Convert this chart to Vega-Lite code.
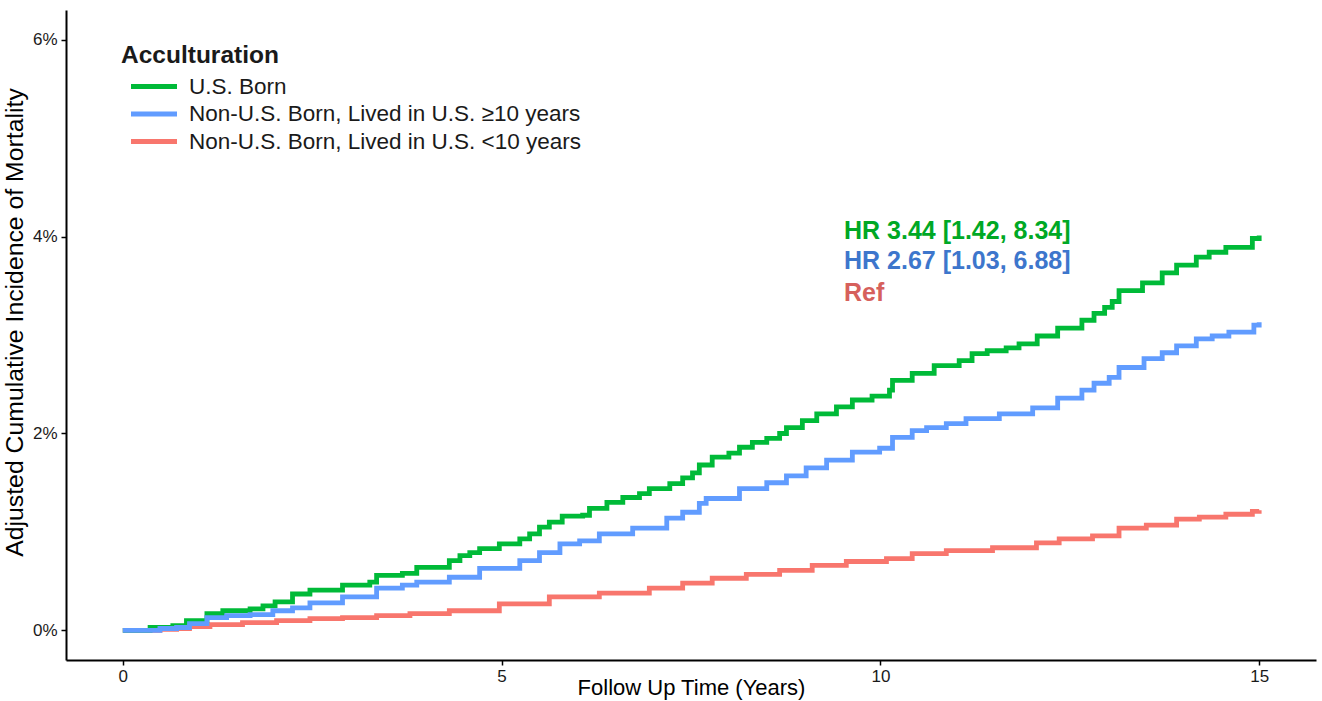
{
  "$schema": "https://vega.github.io/schema/vega-lite/v6.json",
  "width": 1250,
  "height": 650,
  "autosize": {"type": "none"},
  "padding": {"left": 66, "top": 10, "right": 6, "bottom": 41},
  "background": "white",
  "config": {
    "view": {"stroke": null},
    "font": "Liberation Sans",
    "axis": {
      "domainColor": "#000000",
      "domainWidth": 2,
      "tickColor": "#000000",
      "tickWidth": 1.5,
      "tickSize": 5,
      "grid": false
    },
    "legend": {
      "orient": "none",
      "legendX": 55,
      "legendY": 34,
      "titleFont": "Liberation Sans",
      "titleFontSize": 24.5,
      "titleFontWeight": "bold",
      "titleColor": "#1a1a1a",
      "titlePadding": 4,
      "labelFont": "Liberation Sans",
      "labelFontSize": 22.5,
      "labelColor": "#1a1a1a",
      "labelLimit": 0,
      "symbolType": "M-2,0H2",
      "symbolStrokeWidth": 5,
      "symbolSize": 529,
      "symbolOffset": 19,
      "labelOffset": 21,
      "rowPadding": 1.5
    }
  },
  "datasets": {
    "curves": [
      {"series": "Non-U.S. Born, Lived in U.S. <10 years", "t": 0, "cum": 0},
      {"series": "Non-U.S. Born, Lived in U.S. <10 years", "t": 0.49, "cum": 0.01},
      {"series": "Non-U.S. Born, Lived in U.S. <10 years", "t": 0.71, "cum": 0.02},
      {"series": "Non-U.S. Born, Lived in U.S. <10 years", "t": 0.88, "cum": 0.04},
      {"series": "Non-U.S. Born, Lived in U.S. <10 years", "t": 1.15, "cum": 0.06},
      {"series": "Non-U.S. Born, Lived in U.S. <10 years", "t": 1.58, "cum": 0.08},
      {"series": "Non-U.S. Born, Lived in U.S. <10 years", "t": 2.03, "cum": 0.10},
      {"series": "Non-U.S. Born, Lived in U.S. <10 years", "t": 2.47, "cum": 0.12},
      {"series": "Non-U.S. Born, Lived in U.S. <10 years", "t": 2.90, "cum": 0.13},
      {"series": "Non-U.S. Born, Lived in U.S. <10 years", "t": 3.35, "cum": 0.15},
      {"series": "Non-U.S. Born, Lived in U.S. <10 years", "t": 3.79, "cum": 0.17},
      {"series": "Non-U.S. Born, Lived in U.S. <10 years", "t": 4.31, "cum": 0.20},
      {"series": "Non-U.S. Born, Lived in U.S. <10 years", "t": 4.97, "cum": 0.27},
      {"series": "Non-U.S. Born, Lived in U.S. <10 years", "t": 5.63, "cum": 0.34},
      {"series": "Non-U.S. Born, Lived in U.S. <10 years", "t": 6.29, "cum": 0.38},
      {"series": "Non-U.S. Born, Lived in U.S. <10 years", "t": 6.95, "cum": 0.43},
      {"series": "Non-U.S. Born, Lived in U.S. <10 years", "t": 7.39, "cum": 0.48},
      {"series": "Non-U.S. Born, Lived in U.S. <10 years", "t": 7.78, "cum": 0.53},
      {"series": "Non-U.S. Born, Lived in U.S. <10 years", "t": 8.23, "cum": 0.57},
      {"series": "Non-U.S. Born, Lived in U.S. <10 years", "t": 8.67, "cum": 0.61},
      {"series": "Non-U.S. Born, Lived in U.S. <10 years", "t": 9.10, "cum": 0.66},
      {"series": "Non-U.S. Born, Lived in U.S. <10 years", "t": 9.55, "cum": 0.70},
      {"series": "Non-U.S. Born, Lived in U.S. <10 years", "t": 10.08, "cum": 0.73},
      {"series": "Non-U.S. Born, Lived in U.S. <10 years", "t": 10.42, "cum": 0.78},
      {"series": "Non-U.S. Born, Lived in U.S. <10 years", "t": 10.87, "cum": 0.81},
      {"series": "Non-U.S. Born, Lived in U.S. <10 years", "t": 11.48, "cum": 0.84},
      {"series": "Non-U.S. Born, Lived in U.S. <10 years", "t": 12.06, "cum": 0.89},
      {"series": "Non-U.S. Born, Lived in U.S. <10 years", "t": 12.36, "cum": 0.93},
      {"series": "Non-U.S. Born, Lived in U.S. <10 years", "t": 12.80, "cum": 0.96},
      {"series": "Non-U.S. Born, Lived in U.S. <10 years", "t": 13.15, "cum": 1.04},
      {"series": "Non-U.S. Born, Lived in U.S. <10 years", "t": 13.51, "cum": 1.07},
      {"series": "Non-U.S. Born, Lived in U.S. <10 years", "t": 13.91, "cum": 1.13},
      {"series": "Non-U.S. Born, Lived in U.S. <10 years", "t": 14.21, "cum": 1.15},
      {"series": "Non-U.S. Born, Lived in U.S. <10 years", "t": 14.56, "cum": 1.18},
      {"series": "Non-U.S. Born, Lived in U.S. <10 years", "t": 14.91, "cum": 1.21},
      {"series": "Non-U.S. Born, Lived in U.S. <10 years", "t": 15.0, "cum": 1.22},

      {"series": "U.S. Born", "t": 0, "cum": 0},
      {"series": "U.S. Born", "t": 0.36, "cum": 0.03},
      {"series": "U.S. Born", "t": 0.66, "cum": 0.05},
      {"series": "U.S. Born", "t": 0.84, "cum": 0.10},
      {"series": "U.S. Born", "t": 1.11, "cum": 0.17},
      {"series": "U.S. Born", "t": 1.32, "cum": 0.20},
      {"series": "U.S. Born", "t": 1.68, "cum": 0.22},
      {"series": "U.S. Born", "t": 1.85, "cum": 0.25},
      {"series": "U.S. Born", "t": 2.01, "cum": 0.29},
      {"series": "U.S. Born", "t": 2.24, "cum": 0.37},
      {"series": "U.S. Born", "t": 2.47, "cum": 0.41},
      {"series": "U.S. Born", "t": 2.90, "cum": 0.46},
      {"series": "U.S. Born", "t": 3.26, "cum": 0.49},
      {"series": "U.S. Born", "t": 3.35, "cum": 0.56},
      {"series": "U.S. Born", "t": 3.69, "cum": 0.58},
      {"series": "U.S. Born", "t": 3.88, "cum": 0.64},
      {"series": "U.S. Born", "t": 4.31, "cum": 0.71},
      {"series": "U.S. Born", "t": 4.45, "cum": 0.76},
      {"series": "U.S. Born", "t": 4.58, "cum": 0.79},
      {"series": "U.S. Born", "t": 4.71, "cum": 0.83},
      {"series": "U.S. Born", "t": 4.97, "cum": 0.88},
      {"series": "U.S. Born", "t": 5.24, "cum": 0.93},
      {"series": "U.S. Born", "t": 5.37, "cum": 0.98},
      {"series": "U.S. Born", "t": 5.50, "cum": 1.05},
      {"series": "U.S. Born", "t": 5.63, "cum": 1.10},
      {"series": "U.S. Born", "t": 5.80, "cum": 1.16},
      {"series": "U.S. Born", "t": 6.07, "cum": 1.17},
      {"series": "U.S. Born", "t": 6.16, "cum": 1.24},
      {"series": "U.S. Born", "t": 6.39, "cum": 1.30},
      {"series": "U.S. Born", "t": 6.60, "cum": 1.35},
      {"series": "U.S. Born", "t": 6.82, "cum": 1.39},
      {"series": "U.S. Born", "t": 6.95, "cum": 1.44},
      {"series": "U.S. Born", "t": 7.22, "cum": 1.49},
      {"series": "U.S. Born", "t": 7.39, "cum": 1.55},
      {"series": "U.S. Born", "t": 7.52, "cum": 1.60},
      {"series": "U.S. Born", "t": 7.61, "cum": 1.68},
      {"series": "U.S. Born", "t": 7.78, "cum": 1.76},
      {"series": "U.S. Born", "t": 8.00, "cum": 1.80},
      {"series": "U.S. Born", "t": 8.14, "cum": 1.86},
      {"series": "U.S. Born", "t": 8.31, "cum": 1.91},
      {"series": "U.S. Born", "t": 8.50, "cum": 1.95},
      {"series": "U.S. Born", "t": 8.67, "cum": 2.00},
      {"series": "U.S. Born", "t": 8.76, "cum": 2.06},
      {"series": "U.S. Born", "t": 8.97, "cum": 2.13},
      {"series": "U.S. Born", "t": 9.16, "cum": 2.20},
      {"series": "U.S. Born", "t": 9.42, "cum": 2.27},
      {"series": "U.S. Born", "t": 9.63, "cum": 2.34},
      {"series": "U.S. Born", "t": 9.89, "cum": 2.38},
      {"series": "U.S. Born", "t": 10.12, "cum": 2.44},
      {"series": "U.S. Born", "t": 10.16, "cum": 2.54},
      {"series": "U.S. Born", "t": 10.42, "cum": 2.61},
      {"series": "U.S. Born", "t": 10.71, "cum": 2.69},
      {"series": "U.S. Born", "t": 11.04, "cum": 2.74},
      {"series": "U.S. Born", "t": 11.21, "cum": 2.81},
      {"series": "U.S. Born", "t": 11.41, "cum": 2.84},
      {"series": "U.S. Born", "t": 11.66, "cum": 2.87},
      {"series": "U.S. Born", "t": 11.83, "cum": 2.91},
      {"series": "U.S. Born", "t": 12.07, "cum": 2.99},
      {"series": "U.S. Born", "t": 12.34, "cum": 3.07},
      {"series": "U.S. Born", "t": 12.66, "cum": 3.15},
      {"series": "U.S. Born", "t": 12.82, "cum": 3.22},
      {"series": "U.S. Born", "t": 12.96, "cum": 3.28},
      {"series": "U.S. Born", "t": 13.06, "cum": 3.34},
      {"series": "U.S. Born", "t": 13.15, "cum": 3.45},
      {"series": "U.S. Born", "t": 13.46, "cum": 3.53},
      {"series": "U.S. Born", "t": 13.72, "cum": 3.63},
      {"series": "U.S. Born", "t": 13.91, "cum": 3.71},
      {"series": "U.S. Born", "t": 14.17, "cum": 3.79},
      {"series": "U.S. Born", "t": 14.34, "cum": 3.84},
      {"series": "U.S. Born", "t": 14.56, "cum": 3.89},
      {"series": "U.S. Born", "t": 14.91, "cum": 3.98},
      {"series": "U.S. Born", "t": 15.0, "cum": 4.01},

      {"series": "Non-U.S. Born, Lived in U.S. ≥10 years", "t": 0, "cum": 0},
      {"series": "Non-U.S. Born, Lived in U.S. ≥10 years", "t": 0.49, "cum": 0.02},
      {"series": "Non-U.S. Born, Lived in U.S. ≥10 years", "t": 0.71, "cum": 0.03},
      {"series": "Non-U.S. Born, Lived in U.S. ≥10 years", "t": 0.88, "cum": 0.07},
      {"series": "Non-U.S. Born, Lived in U.S. ≥10 years", "t": 1.11, "cum": 0.13},
      {"series": "Non-U.S. Born, Lived in U.S. ≥10 years", "t": 1.37, "cum": 0.15},
      {"series": "Non-U.S. Born, Lived in U.S. ≥10 years", "t": 1.68, "cum": 0.16},
      {"series": "Non-U.S. Born, Lived in U.S. ≥10 years", "t": 1.98, "cum": 0.20},
      {"series": "Non-U.S. Born, Lived in U.S. ≥10 years", "t": 2.24, "cum": 0.23},
      {"series": "Non-U.S. Born, Lived in U.S. ≥10 years", "t": 2.47, "cum": 0.28},
      {"series": "Non-U.S. Born, Lived in U.S. ≥10 years", "t": 2.90, "cum": 0.34},
      {"series": "Non-U.S. Born, Lived in U.S. ≥10 years", "t": 3.35, "cum": 0.43},
      {"series": "Non-U.S. Born, Lived in U.S. ≥10 years", "t": 3.69, "cum": 0.46},
      {"series": "Non-U.S. Born, Lived in U.S. ≥10 years", "t": 3.88, "cum": 0.49},
      {"series": "Non-U.S. Born, Lived in U.S. ≥10 years", "t": 4.31, "cum": 0.54},
      {"series": "Non-U.S. Born, Lived in U.S. ≥10 years", "t": 4.71, "cum": 0.63},
      {"series": "Non-U.S. Born, Lived in U.S. ≥10 years", "t": 5.24, "cum": 0.71},
      {"series": "Non-U.S. Born, Lived in U.S. ≥10 years", "t": 5.50, "cum": 0.79},
      {"series": "Non-U.S. Born, Lived in U.S. ≥10 years", "t": 5.77, "cum": 0.88},
      {"series": "Non-U.S. Born, Lived in U.S. ≥10 years", "t": 6.03, "cum": 0.91},
      {"series": "Non-U.S. Born, Lived in U.S. ≥10 years", "t": 6.29, "cum": 0.98},
      {"series": "Non-U.S. Born, Lived in U.S. ≥10 years", "t": 6.73, "cum": 1.04},
      {"series": "Non-U.S. Born, Lived in U.S. ≥10 years", "t": 7.18, "cum": 1.14},
      {"series": "Non-U.S. Born, Lived in U.S. ≥10 years", "t": 7.39, "cum": 1.20},
      {"series": "Non-U.S. Born, Lived in U.S. ≥10 years", "t": 7.61, "cum": 1.29},
      {"series": "Non-U.S. Born, Lived in U.S. ≥10 years", "t": 7.70, "cum": 1.34},
      {"series": "Non-U.S. Born, Lived in U.S. ≥10 years", "t": 8.14, "cum": 1.44},
      {"series": "Non-U.S. Born, Lived in U.S. ≥10 years", "t": 8.50, "cum": 1.50},
      {"series": "Non-U.S. Born, Lived in U.S. ≥10 years", "t": 8.76, "cum": 1.57},
      {"series": "Non-U.S. Born, Lived in U.S. ≥10 years", "t": 9.02, "cum": 1.65},
      {"series": "Non-U.S. Born, Lived in U.S. ≥10 years", "t": 9.29, "cum": 1.73},
      {"series": "Non-U.S. Born, Lived in U.S. ≥10 years", "t": 9.63, "cum": 1.81},
      {"series": "Non-U.S. Born, Lived in U.S. ≥10 years", "t": 9.99, "cum": 1.85},
      {"series": "Non-U.S. Born, Lived in U.S. ≥10 years", "t": 10.16, "cum": 1.96},
      {"series": "Non-U.S. Born, Lived in U.S. ≥10 years", "t": 10.42, "cum": 2.03},
      {"series": "Non-U.S. Born, Lived in U.S. ≥10 years", "t": 10.61, "cum": 2.06},
      {"series": "Non-U.S. Born, Lived in U.S. ≥10 years", "t": 10.87, "cum": 2.10},
      {"series": "Non-U.S. Born, Lived in U.S. ≥10 years", "t": 11.13, "cum": 2.15},
      {"series": "Non-U.S. Born, Lived in U.S. ≥10 years", "t": 11.57, "cum": 2.20},
      {"series": "Non-U.S. Born, Lived in U.S. ≥10 years", "t": 12.01, "cum": 2.26},
      {"series": "Non-U.S. Born, Lived in U.S. ≥10 years", "t": 12.34, "cum": 2.36},
      {"series": "Non-U.S. Born, Lived in U.S. ≥10 years", "t": 12.66, "cum": 2.44},
      {"series": "Non-U.S. Born, Lived in U.S. ≥10 years", "t": 12.82, "cum": 2.51},
      {"series": "Non-U.S. Born, Lived in U.S. ≥10 years", "t": 13.02, "cum": 2.57},
      {"series": "Non-U.S. Born, Lived in U.S. ≥10 years", "t": 13.15, "cum": 2.67},
      {"series": "Non-U.S. Born, Lived in U.S. ≥10 years", "t": 13.48, "cum": 2.76},
      {"series": "Non-U.S. Born, Lived in U.S. ≥10 years", "t": 13.72, "cum": 2.82},
      {"series": "Non-U.S. Born, Lived in U.S. ≥10 years", "t": 13.91, "cum": 2.89},
      {"series": "Non-U.S. Born, Lived in U.S. ≥10 years", "t": 14.17, "cum": 2.96},
      {"series": "Non-U.S. Born, Lived in U.S. ≥10 years", "t": 14.38, "cum": 2.99},
      {"series": "Non-U.S. Born, Lived in U.S. ≥10 years", "t": 14.60, "cum": 3.03},
      {"series": "Non-U.S. Born, Lived in U.S. ≥10 years", "t": 14.93, "cum": 3.10},
      {"series": "Non-U.S. Born, Lived in U.S. ≥10 years", "t": 15.0, "cum": 3.13}
    ],
    "notes": [
      {"label": "HR 3.44 [1.42, 8.34]", "grp": "g", "t": 9.52, "cum": 4.06},
      {"label": "HR 2.67 [1.03, 6.88]", "grp": "b", "t": 9.52, "cum": 3.75},
      {"label": "Ref", "grp": "r", "t": 9.52, "cum": 3.43}
    ]
  },
  "layer": [
    {
      "data": {"name": "curves"},
      "mark": {"type": "line", "interpolate": "step-after", "strokeWidth": 4.8, "strokeJoin": "miter", "strokeCap": "butt"},
      "encoding": {
        "x": {
          "field": "t", "type": "quantitative",
          "scale": {"domain": [-0.75, 15.75], "nice": false, "zero": false},
          "axis": {"values": [0, 5, 10, 15], "format": "d", "title": "Follow Up Time (Years)", "labelPadding": 3, "labelFont": "Liberation Sans", "labelFontSize": 17, "labelColor": "#1a1a1a", "titleFont": "Liberation Sans", "titleFontSize": 22, "titleFontWeight": "normal", "titleColor": "#000000", "titleY": 34, "titleBaseline": "alphabetic"}
        },
        "y": {
          "field": "cum", "type": "quantitative",
          "scale": {"domain": [-0.3, 6.3], "nice": false, "zero": false},
          "axis": {"values": [0, 2, 4, 6], "labelExpr": "datum.value + '%'", "title": "Adjusted Cumulative Incidence of Mortality", "labelPadding": 4, "labelFont": "Liberation Sans", "labelFontSize": 17, "labelColor": "#1a1a1a", "titleFont": "Liberation Sans", "titleFontSize": 24.8, "titleFontWeight": "normal", "titleColor": "#000000", "titleX": -51, "titleY": 312, "titleBaseline": "middle"}
        },
        "color": {
          "field": "series", "type": "nominal",
          "scale": {
            "domain": ["U.S. Born", "Non-U.S. Born, Lived in U.S. ≥10 years", "Non-U.S. Born, Lived in U.S. <10 years"],
            "range": ["#00BA38", "#619CFF", "#F8766D"]
          },
          "legend": {"title": "Acculturation"}
        },
        "order": {"field": "t", "type": "quantitative"}
      }
    },
    {
      "data": {"name": "notes"},
      "mark": {"type": "text", "align": "left", "baseline": "middle", "fontWeight": "bold", "fontSize": 25, "font": "Liberation Sans"},
      "encoding": {
        "x": {"field": "t", "type": "quantitative"},
        "y": {"field": "cum", "type": "quantitative"},
        "text": {"field": "label"},
        "color": {
          "field": "grp", "type": "nominal",
          "scale": {"domain": ["g", "b", "r"], "range": ["#00A825", "#3D76CC", "#D6605C"]},
          "legend": null
        }
      }
    }
  ],
  "resolve": {"scale": {"color": "independent"}}
}
